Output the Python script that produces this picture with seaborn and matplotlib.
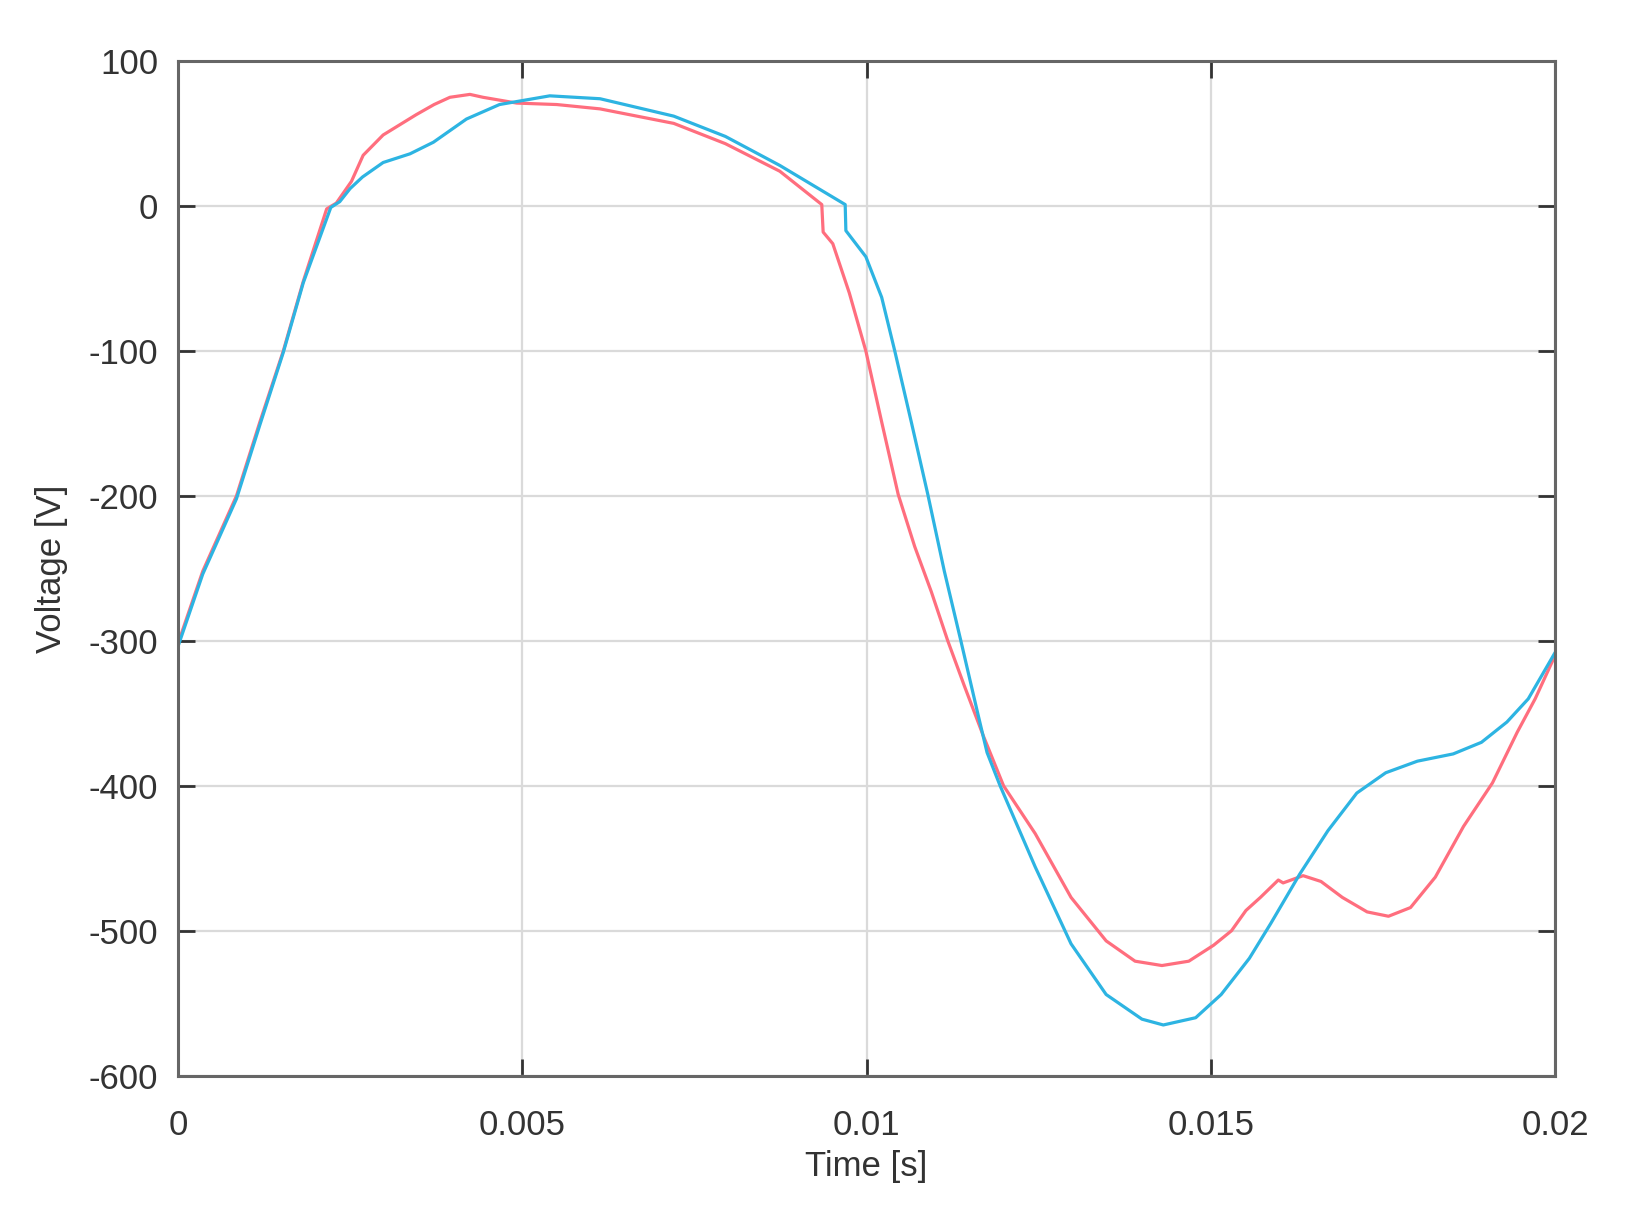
import numpy as np
import pandas as pd
import matplotlib
matplotlib.use("Agg")
import matplotlib.pyplot as plt
import seaborn as sns

# Red trace (time [s], voltage [V])
red_t = [0.0, 0.00036, 0.00085, 0.00119, 0.00153, 0.00182, 0.00216, 0.0023, 0.00252, 0.00269,
         0.00298, 0.00346, 0.00372, 0.00395, 0.00424, 0.00443, 0.00492, 0.0055, 0.00613, 0.0072, 0.00795,
         0.00874, 0.00935, 0.00937, 0.00951, 0.00975, 0.00999, 0.01022, 0.01046, 0.0107, 0.01094,
         0.01118, 0.01142, 0.0117, 0.01199, 0.01245, 0.01297, 0.01348, 0.0139, 0.01429, 0.01468,
         0.01504, 0.0153, 0.01551, 0.01572, 0.01598, 0.01605, 0.01634, 0.0166, 0.01691, 0.01727,
         0.01758, 0.0179, 0.01826, 0.01867, 0.01909, 0.01945, 0.01971, 0.0200]
red_v = [-302, -252, -200, -149, -100, -52, -2, 2, 17, 35,
         49, 63, 70, 75, 77, 75, 71, 70, 67, 57, 43,
         24, 1, -18, -26, -60, -100, -149, -199, -235, -266,
         -300, -331, -366, -400, -433, -477, -507, -521, -524, -521,
         -510, -500, -486, -477, -465, -467, -462, -466, -477, -487,
         -490, -484, -463, -428, -398, -363, -340, -310]

# Blue trace (time [s], voltage [V])
blue_t = [0.0, 0.00036, 0.00085, 0.00119, 0.00153, 0.00182, 0.00222, 0.00235, 0.0025, 0.00268,
          0.00298, 0.00337, 0.00371, 0.00419, 0.00467, 0.0054, 0.00613, 0.0072, 0.00795, 0.00874,
          0.00969, 0.0097, 0.00999, 0.01022, 0.01041, 0.01065, 0.01089, 0.01113, 0.01137, 0.01161,
          0.01175, 0.01194, 0.01245, 0.01297, 0.01348, 0.014, 0.01431, 0.01478, 0.01515, 0.01556,
          0.01587, 0.01629, 0.0167, 0.01712, 0.01754, 0.018, 0.01852, 0.01893, 0.0193, 0.01961, 0.0200]
blue_v = [-304, -254, -202, -151, -101, -53, -1, 3, 12, 20,
          30, 36, 44, 60, 70, 76, 74, 62, 48, 28,
          1, -17, -35, -63, -100, -149, -199, -252, -300, -349,
          -377, -400, -456, -509, -544, -561, -565, -560, -544, -519,
          -495, -461, -431, -405, -391, -383, -378, -370, -356, -340, -308]

df = pd.concat([
    pd.DataFrame({"t": red_t, "v": red_v, "s": "red"}),
    pd.DataFrame({"t": blue_t, "v": blue_v, "s": "blue"}),
])

sns.set_theme(style="white")
plt.rcParams['font.family'] = ['Liberation Sans', 'DejaVu Sans']

fig = plt.figure(figsize=(16.25, 12.21), dpi=100)
ax = fig.add_axes([0.1095, 0.119, 0.8475, 0.831])

sns.lineplot(data=df, x="t", y="v", hue="s", estimator=None, sort=False,
             palette={"red": "#FF6E7E", "blue": "#2DB4E2"}, linewidth=2.3,
             legend=False, ax=ax)

ax.set_xlim(0, 0.02)
ax.set_ylim(-600, 100)
ax.set_xticks([0, 0.005, 0.01, 0.015, 0.02])
ax.set_xticklabels(["0", "0.005", "0.01", "0.015", "0.02"])
ax.set_yticks(np.arange(-600, 101, 100))
ax.set_yticklabels([str(v) for v in range(-600, 101, 100)])
ax.grid(True, color="#DADADA", linewidth=1.6)
ax.set_axisbelow(True)
for sp in ax.spines.values():
    sp.set_visible(True)
    sp.set_color("#666666")
    sp.set_linewidth(2.2)
ax.tick_params(direction="in", length=12, width=2, color="#333333",
               top=True, right=True, bottom=True, left=True,
               labelsize=25, labelcolor="#333333")
ax.tick_params(axis="x", pad=24)
ax.tick_params(axis="y", pad=14)
ax.set_xlabel("Time [s]", fontsize=25, color="#333333", labelpad=6)
ax.set_ylabel("Voltage [V]", fontsize=25, color="#333333", labelpad=15)

fig.savefig("out.png", dpi=100)
